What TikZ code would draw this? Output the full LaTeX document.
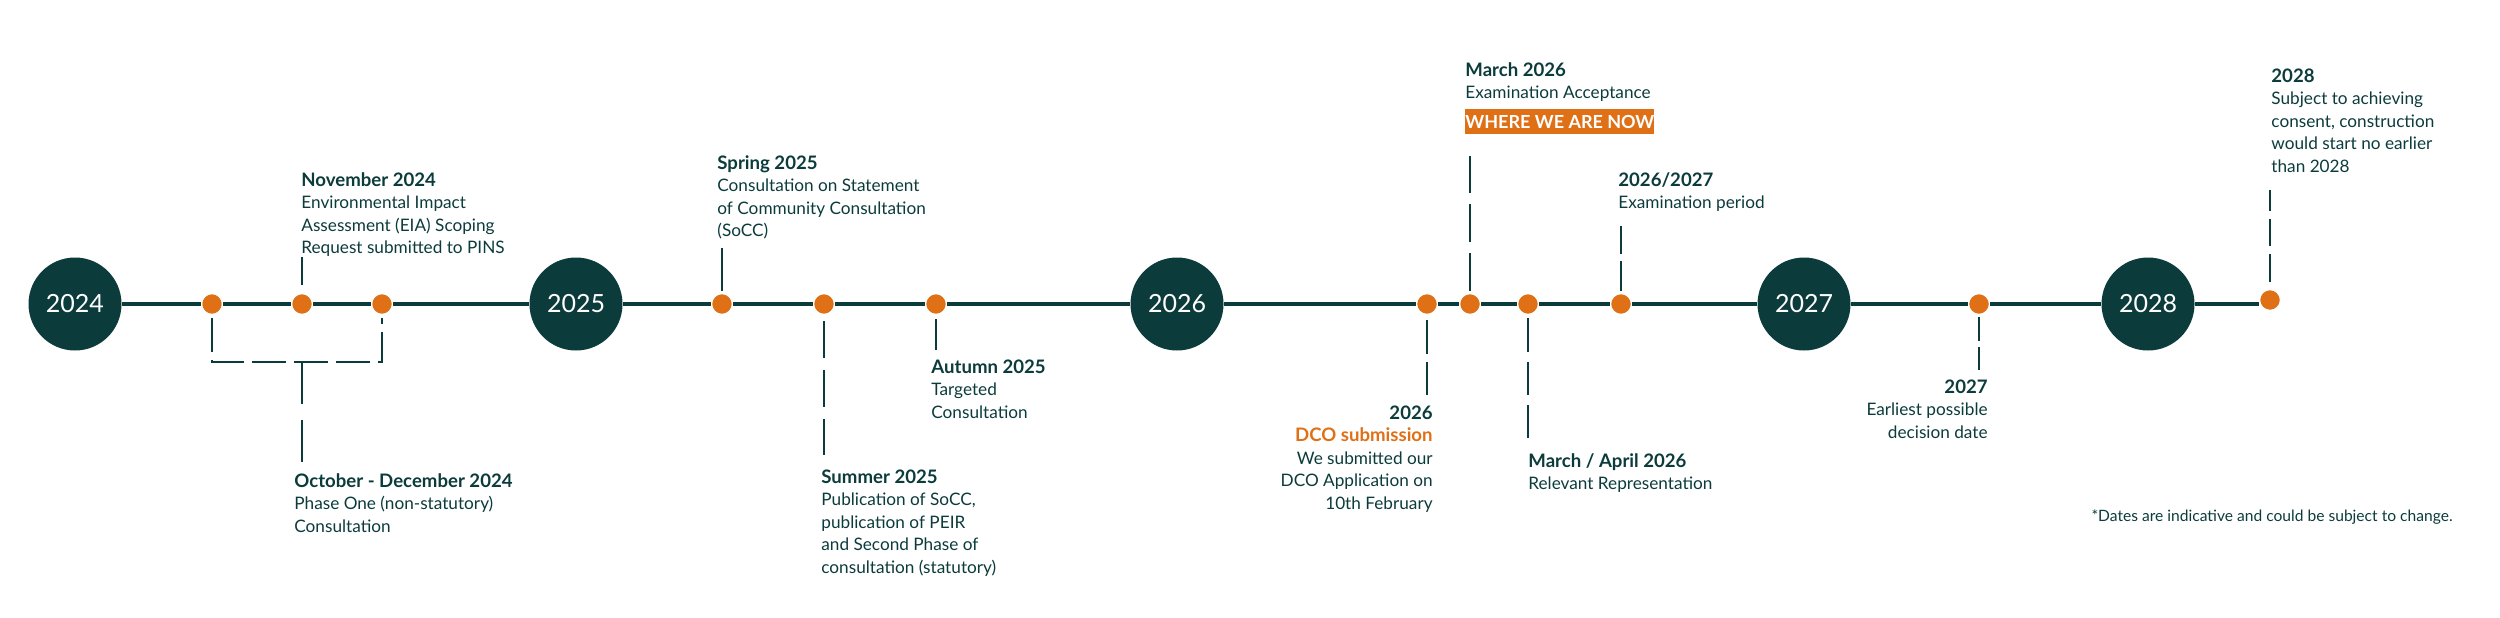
\documentclass[tikz,border=0pt]{standalone}
\usepackage{fontspec}
\setmainfont{Lato}
\usepackage{xcolor}
\definecolor{pteal}{RGB}{12,59,60}
\definecolor{porange}{RGB}{224,112,22}
\usepackage{tikz}
\usetikzlibrary{positioning}
\newcommand{\hd}[1]{{\fontsize{9.3}{11.25}\selectfont\bfseries #1}}

\begin{document}
\begin{tikzpicture}[
  x=0.5pt,y=-0.5pt,
  year/.style={circle,fill=pteal,text=white,minimum size=46.5pt,inner sep=0pt,font=\fontsize{12.5}{14}\selectfont},
  mdot/.style={circle,fill=porange,draw=white,line width=0.7pt,minimum size=10.5pt,inner sep=0pt},
  tline/.style={draw=pteal,line width=2pt},
  link/.style={draw=pteal,line width=1.4pt},
  dlink/.style 2 args={link,dash pattern=on #1 off #2},
  note/.style={anchor=north west,align=left,inner sep=0pt,text=pteal,font=\fontsize{8.6}{11.25}\selectfont},
  rnote/.style={note,anchor=north east,align=right},
  nowbox/.style={fill=porange,text=white,font=\bfseries\fontsize{9}{10}\selectfont,minimum width=94pt,minimum height=12.5pt,inner sep=0pt}
]
  \useasboundingbox (0,0) rectangle (2500,617);

  % Years
  \node[year] (y24) at (75,304) {2024};
  \node[year] (y25) at (576,304) {2025};
  \node[year] (y26) at (1177,304) {2026};
  \node[year] (y27) at (1804,304) {2027};
  \node[year] (y28) at (2148,304) {2028};

  % Milestones
  \node[mdot] (pOct) at (212,304) {};
  \node[mdot] (pNov) at (302,304) {};
  \node[mdot] (pDec) at (382,304) {};
  \node[mdot] (pSpr) at (722,304) {};
  \node[mdot] (pSum) at (824,304) {};
  \node[mdot] (pAut) at (936,304) {};
  \node[mdot] (pDco) at (1427,304) {};
  \node[mdot] (pMar) at (1470,304) {};
  \node[mdot] (pApr) at (1528,304) {};
  \node[mdot] (pExm) at (1621,304) {};
  \node[mdot] (pDec27) at (1979,304) {};
  \node[mdot] (pCon) at (2270,300) {};

  % Texts
  \node[note] (tNov) at (301,172) {\hd{November 2024}\\Environmental Impact\\Assessment (EIA) Scoping\\Request submitted to PINS};
  \node[note] (tOct) at (294,473) {\hd{October - December 2024}\\Phase One (non-statutory)\\Consultation};
  \node[note] (tSpr) at (717,155) {\hd{Spring 2025}\\Consultation on Statement\\of Community Consultation\\(SoCC)};
  \node[note] (tSum) at (821,469) {\hd{Summer 2025}\\Publication of SoCC,\\publication of PEIR\\and Second Phase of\\consultation (statutory)};
  \node[note] (tAut) at (931,359) {\hd{Autumn 2025}\\Targeted\\Consultation};
  \node[rnote] (tDco) at (1433,405) {\hd{2026}\\\textcolor{porange}{\hd{DCO submission}}\\We submitted our\\DCO Application on\\10th February};
  \node[note] (tMar) at (1465,62) {\hd{March 2026}\\Examination Acceptance};
  \node[nowbox,below=3.5pt of tMar.south west,anchor=north west] (bNow) {WHERE WE ARE NOW};
  \node[note] (tApr) at (1528,453) {\hd{March / April 2026}\\Relevant Representation};
  \node[note] (tExm) at (1618,172) {\hd{2026/2027}\\Examination period};
  \node[rnote] (tDec) at (1988,379) {\hd{2027}\\Earliest possible\\decision date};
  \node[note] (tCon) at (2271,68) {\hd{2028}\\Subject to achieving\\consent, construction\\would start no earlier\\than 2028};
  \node[note,anchor=east,font=\fontsize{7.8}{10}\selectfont] (tFoot) at (2453,517) {*Dates are indicative and could be subject to change.};

  % Timeline
  \draw[tline] (y24) -- (pOct) -- (pNov) -- (pDec) -- (y25) -- (pSpr) -- (pSum) -- (pAut) -- (y26)
    -- (pDco) -- (pMar) -- (pApr) -- (pExm) -- (y27) -- (pDec27) -- (y28);
  \draw[tline] (y28) -- (y28 -| pCon.west);

  % Connectors
  \coordinate (brk) at (302,362);
  \draw[dlink={17pt}{4pt},shorten <=1.5pt,shorten >=1.5pt] (pOct) |- (brk) -| (pDec);
  \draw[dlink={21pt}{8pt},shorten >=5pt] (brk) -- (brk |- tOct.north);
  \draw[link,shorten <=4pt] (pNov) -- (pNov |- tNov.south);
  \draw[link,shorten <=1pt,shorten >=4pt] (pSpr) -- (pSpr |- tSpr.south);
  \draw[dlink={18.5pt}{6pt},shorten <=3pt,shorten >=7pt] (pSum) -- (pSum |- tSum.north);
  \draw[link,shorten <=2pt,shorten >=4.5pt] (pAut) -- (pAut |- tAut.north);
  \draw[dlink={17pt}{4pt},shorten <=2.5pt,shorten >=5pt] (pDco) -- (pDco |- tDco.north);
  \draw[dlink={19pt}{5.5pt},shorten <=1pt,shorten >=10.5pt] (pMar) -- (pMar |- bNow.south);
  \draw[dlink={16.8pt}{5pt},shorten <=1.5pt,shorten >=7.5pt] (pApr) -- (pApr |- tApr.north);
  \draw[dlink={15pt}{3.5pt},shorten <=1pt,shorten >=6.75pt] (pExm) -- (pExm |- tExm.south);
  \draw[dlink={12pt}{3pt},shorten <=1pt,shorten >=4.5pt] (pDec27) -- (pDec27 |- tDec.north);
  \draw[dlink={13.8pt}{4pt},shorten <=3.5pt,shorten >=8.5pt] (pCon) -- (pCon |- tCon.south);
\end{tikzpicture}
\end{document}
